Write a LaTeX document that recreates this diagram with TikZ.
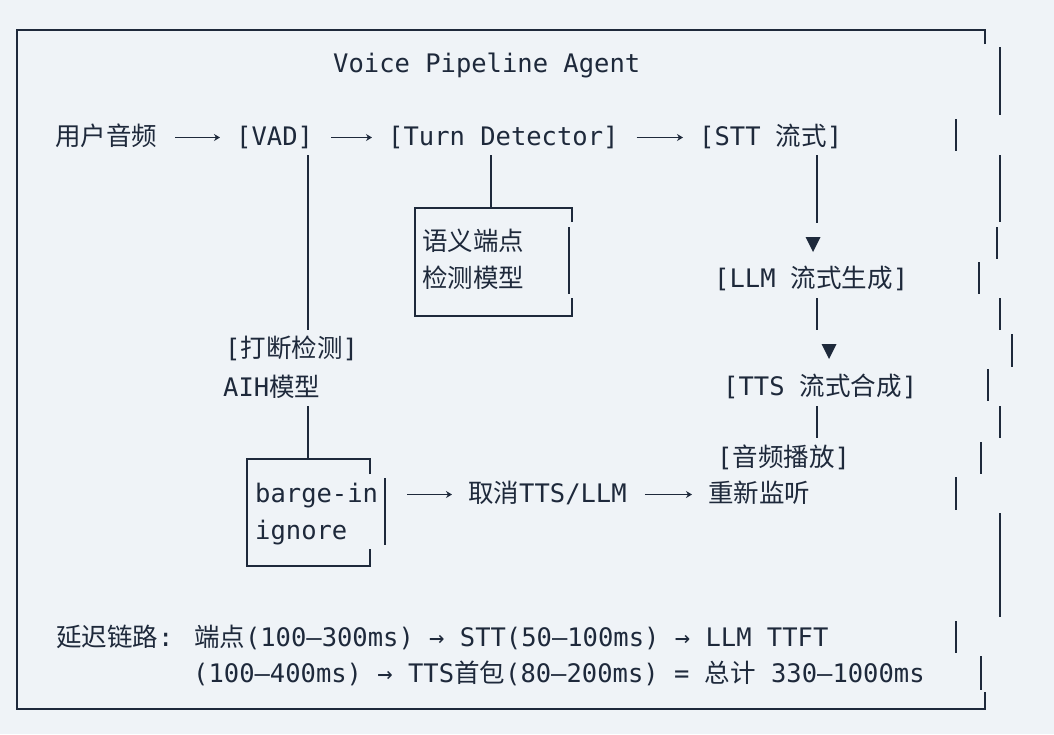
\documentclass[tikz,border=0pt]{standalone}
\usepackage{fontspec}
\setmainfont{DejaVu Sans Mono}
\newfontfamily\cjk{Noto Sans CJK SC}
\newcommand{\zh}[1]{{\cjk #1}}
\usetikzlibrary{arrows.meta,calc}
\definecolor{bgc}{RGB}{239,243,247}
\definecolor{ink}{RGB}{30,41,59}

\begin{document}
\begin{tikzpicture}[x=1pt,y=-1pt,
  every node/.style = {inner sep=0pt, anchor=base west, text=ink,
    font=\fontsize{25.5}{30}\selectfont, text height=20pt, text depth=5pt},
  wire/.style = {draw=ink, line width=1.8pt},
  flow/.style = {wire, -{Stealth[length=6pt,width=7pt]},
    shorten <=18pt, shorten >=16pt}]
  \fill[bgc] (0,0) rectangle (1054,734);
  \coordinate (colA) at (308,0);
  \coordinate (colB) at (491,0);
  \coordinate (colC) at (817,0);

  \node (title) at (333,72) {Voice Pipeline Agent};
  \node (user) at (55,145) {\zh{用户音频}};
  \node (vad) at (236,145) {[VAD]};
  \node (turn) at (388,145) {[Turn Detector]};
  \node (stt) at (699,145) {[STT \zh{流式}]};
  \node (sem1) at (422,250) {\zh{语义端点}};
  \node (sem2) at (422,287) {\zh{检测模型}};
  \node (llm) at (714,287) {[LLM \zh{流式生成}]};
  \node (brk) at (225,357) {[\zh{打断检测}]};
  \node (aih) at (223,396) {AIH\zh{模型}};
  \node (tts) at (723,395) {[TTS \zh{流式合成}]};
  \node (play) at (717,466) {[\zh{音频播放}]};
  \node (barge) at (255,502) {barge-in};
  \node (ign) at (255,539) {ignore};
  \node (cancel) at (468,502) {\zh{取消}TTS/LLM};
  \node (relisten) at (708,502) {\zh{重新监听}};
  \node (lat1) at (56,646) {\zh{延迟链路}: \zh{端点}(100–300ms) → STT(50–100ms) → LLM TTFT};
  \node (lat2) at (193,682) {(100–400ms) → TTS\zh{首包}(80–200ms) = \zh{总计} 330–1000ms};

  % outer frame
  \draw[wire] (985,44) -- (985,30) -- (17,30) -- (17,709) -- (985,709) -- (985,692);
  \foreach \x/\a/\b in {1000/47/115, 956/119/151, 1000/155/222, 997/227/259,
      979/262/294, 1000/298/330, 1012/334/367, 988/369/401, 1000/406/438,
      981/442/474, 956/477/510, 1000/513/617, 956/621/653, 981/656/690}
    \draw[wire] (\x,\a) -- (\x,\b);

  % boxes
  \coordinate (semNW) at (415,208);
  \draw[wire] (572,222) -- (572,208) -- (semNW) -- (415,316) -- (572,316) -- (572,298);
  \draw[wire] (569,227) -- (569,294);
  \coordinate (bargeNW) at (247,459);
  \coordinate (bargeE) at (385,494.5);
  \draw[wire] (370,474) -- (370,459) -- (bargeNW) -- (247,566) -- (370,566) -- (370,549);
  \draw[wire] (385,478) -- (385,545);

  \coordinate (t1) at (813,237);
  \coordinate (t2) at (829,344);
  \fill[ink] (t1) ++(-7.5,0) -- ++(15,0) -- ++(-7.5,15) -- cycle;
  \fill[ink] (t2) ++(-7.5,0) -- ++(15,0) -- ++(-7.5,15) -- cycle;

  \draw[flow] (user) -- (vad);
  \draw[flow] (vad) -- (turn);
  \draw[flow] (turn) -- (stt);
  \draw[flow, shorten <=22pt] (bargeE) -- (cancel);
  \draw[flow] (cancel) -- (relisten);
  \draw[wire] ($(vad.south -| colA)+(0,5)$) -- ($(brk.north -| colA)+(0,-7)$);
  \draw[wire] ($(aih.south -| colA)+(0,5)$) -- (bargeNW -| colA);
  \draw[wire] ($(turn.south -| colB)+(0,5)$) -- (semNW -| colB);
  \draw[wire] ($(stt.south -| colC)+(0,5)$) -- ($(t1 -| colC)+(0,-14)$);
  \draw[wire] ($(llm.south -| colC)+(0,6)$) -- ($(t2 -| colC)+(0,-14)$);
  \draw[wire] ($(tts.south -| colC)+(0,6)$) -- ($(play.north -| colC)+(0,-8)$);
\end{tikzpicture}
\end{document}
